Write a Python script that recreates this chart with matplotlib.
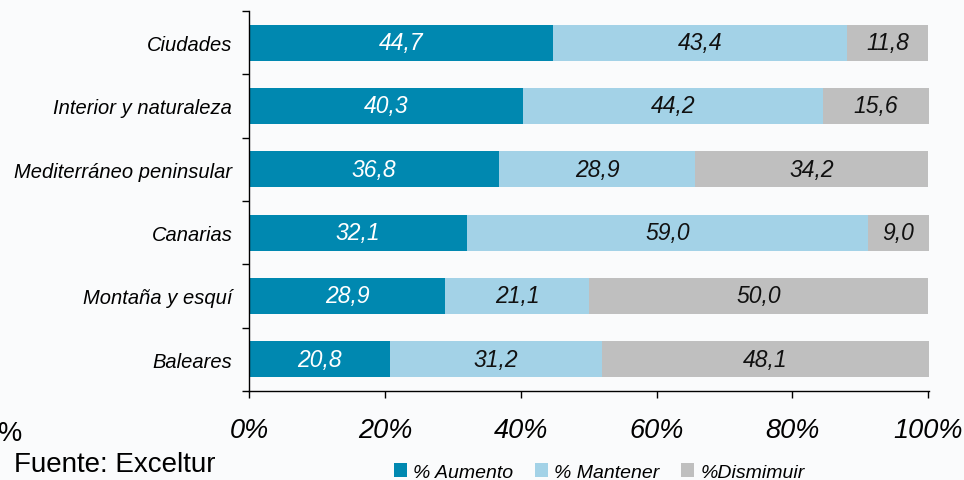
import matplotlib
matplotlib.use("Agg")
import matplotlib.pyplot as plt
from matplotlib.patches import Patch
import numpy as np

# data
categories = ["Ciudades", "Interior y naturaleza", "Mediterráneo peninsular",
              "Canarias", "Montaña y esquí", "Baleares"]
aumento = [44.7, 40.3, 36.8, 32.1, 28.9, 20.8]
mantener = [43.4, 44.2, 28.9, 59.0, 21.1, 31.2]
disminuir = [11.8, 15.6, 34.2, 9.0, 50.0, 48.1]
series_names = ["% Aumento", "% Mantener", "%Dismimuir"]
colors = ["#0088b0", "#a3d2e7", "#bfbfbf"]
text_colors = ["white", "#111111", "#111111"]

plt.rcParams['font.family'] = ['Liberation Sans', 'DejaVu Sans']

fig = plt.figure(figsize=(9.64, 4.81), dpi=100)
fig.patch.set_facecolor("#fafbfc")
ax = fig.add_axes([249 / 964, 89 / 481, 680 / 964, 380 / 481])
ax.set_facecolor("none")

y = np.arange(len(categories))
left = np.zeros(len(categories))
for vals, col, tcol in zip([aumento, mantener, disminuir], colors, text_colors):
    vals = np.array(vals)
    ax.barh(y, vals, left=left, height=0.57, color=col)
    for yi, l, v in zip(y, left, vals):
        ax.text(l + v / 2, yi, f"{v:.1f}".replace(".", ","), ha="center", va="center",
                color=tcol, fontsize=16.5, fontstyle="italic")
    left += vals

total = np.array(aumento) + np.array(mantener) + np.array(disminuir)
ax.set_xlim(0, total.max())
ax.set_ylim(len(categories) - 0.5, -0.5)

ax.set_xticks(np.arange(0, 101, 20))
ax.set_xticklabels([f"{t}%" for t in range(0, 101, 20)], fontsize=19.5, fontstyle="italic")
ax.set_yticks(y)
ax.set_yticklabels(categories, fontsize=14.5, fontstyle="italic")
ax.set_yticks(np.arange(-0.5, len(categories), 1), minor=True)
ax.tick_params(axis="y", which="major", length=0, pad=12)
ax.tick_params(axis="y", which="minor", length=5, width=1)
ax.tick_params(axis="x", length=5, width=1, pad=14)

for s in ["top", "right"]:
    ax.spines[s].set_visible(False)
ax.spines["left"].set_linewidth(1)
ax.spines["bottom"].set_linewidth(1)

handles = [Patch(facecolor=c, label=n) for c, n in zip(colors, series_names)]
fig.legend(handles=handles, loc="center left", bbox_to_anchor=(386 / 964, 8 / 481),
           ncol=3, frameon=False, handlelength=0.7, handleheight=0.7,
           handletextpad=0.3, columnspacing=1.1, borderaxespad=0,
           prop={"style": "italic", "size": 14})

fig.text(14 / 964, 16 / 481, "Fuente: Exceltur", fontsize=20, ha="left", va="center")
fig.text(-17 / 964, 47 / 481, "0%", fontsize=19.5, ha="left", va="center")

fig.savefig("out.png", dpi=100, facecolor=fig.get_facecolor())
